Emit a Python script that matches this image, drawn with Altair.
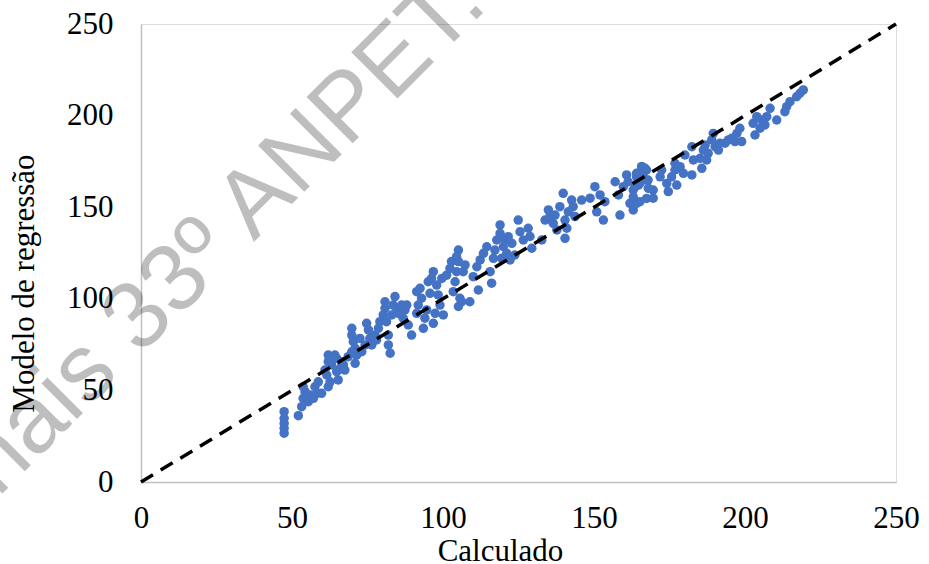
import altair as alt
import pandas as pd

# Scatter values (Calculado, Modelo de regressão)
calc = [
    47.4, 47.4, 47.4, 47.4, 47.4, 52.1, 53.2, 53.7, 54.3, 53.7, 55.4, 56.0, 57.1, 58.2, 57.6, 58.7, 59.8,
    62.0, 62.6, 61.5, 60.9, 62.0, 62.0, 63.1, 64.2, 64.8, 65.3, 64.8, 65.9, 67.0, 67.5, 66.4,
    68.6, 69.8, 69.8, 70.3, 70.9, 71.4, 70.9, 69.8, 72.5, 73.1, 74.2, 74.7, 75.3, 75.8, 76.4, 78.0, 77.5,
    78.6, 79.1, 80.2, 80.8, 80.8, 81.3, 81.9, 81.9, 82.5, 83.0, 83.5, 84.1, 84.6,
    85.2, 86.3, 86.8, 87.4, 88.0, 88.5, 89.6, 91.3, 91.8, 91.3, 92.4, 92.9, 93.5, 94.0, 94.6, 95.1,
    96.2, 96.8, 95.7, 96.8, 97.4, 97.9, 98.4, 99.0, 100.1, 99.6, 101.2, 102.3, 102.8, 103.4, 104.0,
    104.5, 105.1, 105.6, 105.1, 106.2,
    108.9, 106.7, 107.3, 105.1, 104.5, 110.0, 111.2, 112.3, 111.7, 113.4, 114.5, 115.6, 116.1, 116.7,
    117.2, 117.8, 118.9, 118.9, 120.0, 119.4, 120.5, 121.1, 122.2, 121.6, 122.8, 123.8,
    124.9, 125.5, 126.6, 128.2, 128.8, 129.4, 132.7, 133.8, 134.9, 135.4, 136.5, 137.7, 137.1,
    138.7, 139.8, 140.4, 141.0, 140.4, 141.5, 142.6, 143.1, 143.7, 145.9, 148.7, 150.3, 150.9, 152.0,
    153.1, 153.6, 157.0, 158.1, 158.6, 159.7, 160.8, 161.3, 161.9, 163.0, 164.1, 164.7, 165.8, 166.3,
    167.4, 167.9, 167.4, 165.2,
    163.0, 164.1, 163.0, 163.6, 165.2, 164.1, 165.8, 166.9, 167.4, 168.0, 169.6, 169.6, 171.9, 172.4,
    174.1, 174.6, 175.7, 176.8, 177.4, 176.8, 178.5, 179.6, 180.1, 182.4, 182.9, 182.4, 185.1, 185.7,
    186.2, 187.3, 186.8, 187.8, 189.0, 189.5, 190.1, 191.2, 191.7, 193.4, 194.5, 195.6, 196.7, 197.3,
    198.3, 198.9, 202.7, 203.3, 203.9, 205.0, 205.5, 206.6, 207.2, 208.3, 210.5, 213.2, 213.8, 214.9,
    217.1, 218.2, 219.3,
]
modelo = [
    38.4, 34.8, 32.0, 29.3, 26.6, 36.2, 41.1, 45.7, 49.3, 52.0, 43.8, 47.5, 45.7, 48.4, 52.0, 54.7, 48.4,
    52.0, 54.7, 58.4, 61.1, 69.3, 65.7, 63.9, 69.3, 67.5, 55.7, 60.2, 62.1, 63.9, 61.1, 65.7,
    68.4, 83.9, 80.2, 76.6, 73.0, 69.3, 64.8, 71.1, 78.4, 71.1, 74.8, 86.6, 83.0, 78.4, 74.8, 77.5, 80.2,
    83.9, 87.5, 91.2, 94.8, 98.4, 87.5, 80.2, 74.8, 70.3, 91.2, 96.6, 101.2, 94.8,
    92.1, 96.6, 89.4, 93.9, 96.6, 85.7, 80.2, 92.1, 96.6, 103.9, 105.7, 100.3, 83.9, 89.4, 93.9, 109.3,
    111.2, 114.8, 103.0, 86.6, 92.1, 107.5, 102.1, 96.6, 91.2, 111.1, 112.9, 116.6, 120.3, 103.9, 109.3,
    114.8, 120.3, 100.3, 95.8, 98.4,
    98.4, 114.8, 118.5, 126.6, 123.0, 112.1, 117.5, 121.2, 104.8, 124.8, 128.4, 114.8, 108.5, 122.1,
    126.6, 132.1, 140.3, 135.7, 128.4, 122.1, 132.1, 124.8, 121.2, 133.9, 130.3, 123.9,
    143.0, 136.6, 132.1, 138.5, 134.0, 127.6, 132.1, 143.0, 148.5, 144.9, 141.2, 137.6, 145.7,
    150.3, 157.6, 143.0, 138.5, 133.0, 147.5, 153.9, 150.3, 144.9, 153.9, 154.9, 161.2, 147.5, 156.7,
    143.0, 153.0, 163.9, 156.7, 145.7, 161.2, 167.6, 163.9, 152.1, 159.4, 166.6, 162.1, 172.1, 168.5,
    170.3, 164.8, 154.8, 153.0,
    148.5, 152.1, 155.7, 161.2, 163.0, 168.5, 172.1, 171.2, 164.8, 160.3, 154.9, 159.4, 166.6, 170.3,
    163.0, 158.5, 166.6, 170.3, 162.1, 174.0, 172.1, 168.5, 178.5, 183.0, 175.8, 167.6, 176.7, 171.2,
    181.2, 175.8, 183.9, 179.4, 186.7, 190.3, 183.0, 181.2, 184.9, 184.9, 186.7, 187.6, 185.8, 190.3,
    193.1, 185.8, 195.8, 189.4, 199.4, 193.1, 197.6, 194.9, 199.4, 204.0, 197.6, 202.1, 204.9, 207.6,
    210.3, 212.2, 214.0,
]

# Reference (identity) line
line_x = [0, 250]
line_y = [0, 250]

tick_values = [0, 50, 100, 150, 200, 250]
x_title = "Calculado"
y_title = "Modelo de regressão"
watermark = "Anais 33º ANPET."

pts = pd.DataFrame({"Calculado": calc, "Modelo": modelo})
ln = pd.DataFrame({"Calculado": line_x, "Modelo": line_y})
wm = pd.DataFrame({"t": [watermark]})

SERIF = "Liberation Serif"

x_axis = alt.Axis(
    values=tick_values, grid=False, ticks=False, tickSize=0,
    domainColor="#bfbfbf", domainWidth=1.5,
    labelFont=SERIF, labelFontSize=31, labelColor="black",
    labelPadding=45, labelBaseline="alphabetic", labelFlush=False, labelOverlap=False,
    title=x_title, titleFont=SERIF, titleFontSize=31, titleFontWeight="normal",
    titleColor="black", titleX=359, titleY=78, titleBaseline="alphabetic", titleAlign="center",
)
y_axis = alt.Axis(
    values=tick_values, grid=False, ticks=False, tickSize=0,
    domainColor="#bfbfbf", domainWidth=1.5,
    labelFont=SERIF, labelFontSize=31, labelColor="black",
    labelPadding=28, labelFlush=False, labelOverlap=False,
    title=y_title, titleFont=SERIF, titleFontSize=31, titleFontWeight="normal",
    titleColor="black", titleX=-108, titleY=259, titleAngle=270,
    titleBaseline="alphabetic", titleAlign="center",
)

xs = alt.Scale(domain=[0, 250], nice=False, zero=True)
ys = alt.Scale(domain=[0, 250], nice=False, zero=True)

points = alt.Chart(pts).mark_circle(size=90, color="#4472C4", opacity=1).encode(
    x=alt.X("Calculado:Q", scale=xs, axis=x_axis),
    y=alt.Y("Modelo:Q", scale=ys, axis=y_axis),
)

diag = alt.Chart(ln).mark_line(color="black", strokeWidth=3.5, strokeDash=[14, 9]).encode(
    x=alt.X("Calculado:Q", scale=xs),
    y=alt.Y("Modelo:Q", scale=ys),
)

mark = alt.Chart(wm).mark_text(
    angle=315, font="Liberation Sans", fontSize=95, color="black", opacity=0.25,
    align="center", baseline="alphabetic",
).encode(x=alt.value(80), y=alt.value(251), text="t:N")

chart = alt.layer(points, diag, mark).properties(
    width=755, height=458,
    autosize=alt.AutoSizeParams(type="none"),
    padding={"left": 141, "top": 24, "right": 33, "bottom": 82},
).configure_view(stroke=None).configure(background="white")

chart.save("out.html", embed_options={"renderer": "svg", "actions": False})
